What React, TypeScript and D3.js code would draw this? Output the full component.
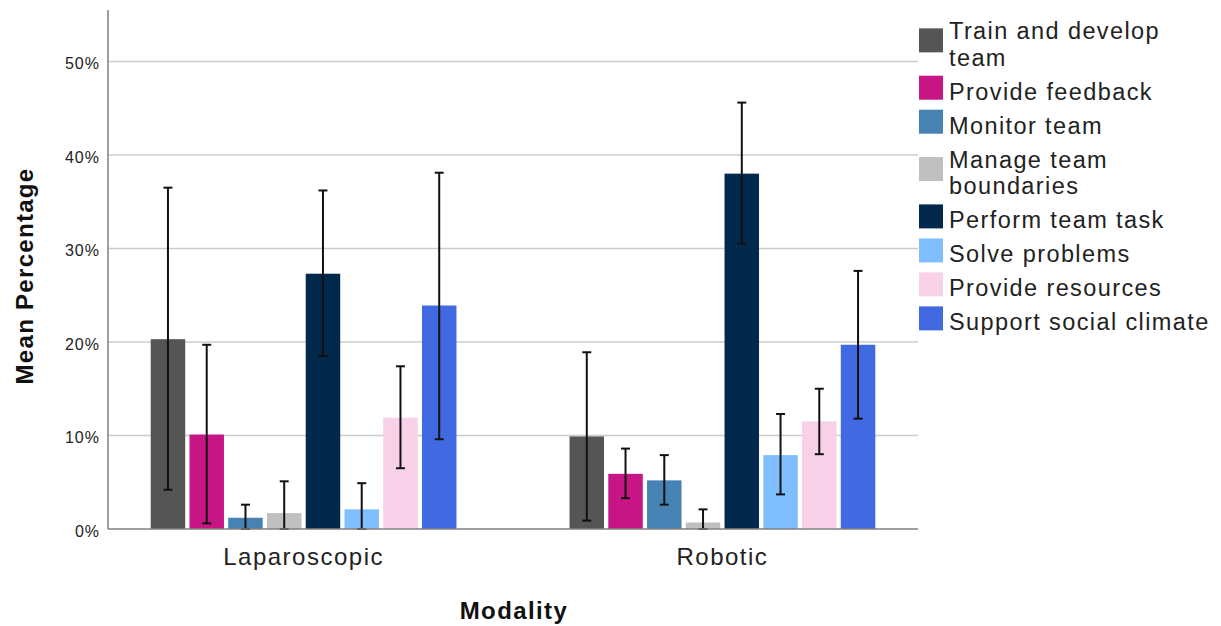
import React, {useEffect, useRef} from "react";
import * as d3 from "d3";

const modalities = ["Laparoscopic", "Robotic"];

const behaviours = [
  "Train and develop team",
  "Provide feedback",
  "Monitor team",
  "Manage team boundaries",
  "Perform team task",
  "Solve problems",
  "Provide resources",
  "Support social climate",
];

// legend wraps some labels onto two lines
const legendLines = [
  ["Train and develop", "team"],
  ["Provide feedback"],
  ["Monitor team"],
  ["Manage team", "boundaries"],
  ["Perform team task"],
  ["Solve problems"],
  ["Provide resources"],
  ["Support social climate"],
];

const colors = [
  "#555555",
  "#c71585",
  "#4682b4",
  "#c0c0c0",
  "#02284b",
  "#80bfff",
  "#f8d1e9",
  "#4169e1",
];

// mean percentage, one array per modality (same order as behaviours)
const laparoscopicMean = [20.3, 10.1, 1.2, 1.7, 27.3, 2.1, 11.9, 23.9];
const roboticMean = [9.9, 5.9, 5.2, 0.7, 38.0, 7.9, 11.5, 19.7];

// error bar ends
const laparoscopicLow = [4.2, 0.6, 0, 0, 18.5, 0, 6.5, 9.6];
const laparoscopicHigh = [36.5, 19.7, 2.6, 5.1, 36.2, 4.9, 17.4, 38.1];
const roboticLow = [0.9, 3.3, 2.6, 0, 30.5, 3.7, 8.0, 11.8];
const roboticHigh = [18.9, 8.6, 7.9, 2.1, 45.6, 12.3, 15.0, 27.6];

const yTicks = [0, 10, 20, 30, 40, 50];

const FONT = "Liberation Sans, Arial, sans-serif";

function createChart(el: SVGSVGElement) {
  const svg = d3.select(el);
  svg.selectAll("*").remove();

  const left = 108,
    right = 918,
    top = 10,
    bottom = 529;

  const y = d3.scaleLinear().domain([0, 55.5]).range([bottom, top]);

  const x0 = d3
    .scaleBand()
    .domain(modalities)
    .range([left, right])
    .paddingInner(0.27)
    .paddingOuter(0.102);

  const x1 = d3
    .scaleBand()
    .domain(behaviours)
    .range([0, x0.bandwidth()])
    .paddingInner(0.11)
    .paddingOuter(0);

  const rows = [
    {m: "Laparoscopic", mean: laparoscopicMean, lo: laparoscopicLow, hi: laparoscopicHigh},
    {m: "Robotic", mean: roboticMean, lo: roboticLow, hi: roboticHigh},
  ];

  // gridlines
  svg
    .append("g")
    .selectAll("line")
    .data(yTicks.filter((t) => t > 0))
    .enter()
    .append("line")
    .attr("x1", left)
    .attr("x2", right)
    .attr("y1", (d) => y(d))
    .attr("y2", (d) => y(d))
    .attr("stroke", "#cccccc")
    .attr("stroke-width", 1.5);

  // tick labels
  svg
    .append("g")
    .selectAll("text")
    .data(yTicks)
    .enter()
    .append("text")
    .attr("x", 100)
    .attr("y", (d) => y(d))
    .attr("dy", "0.5em")
    .attr("text-anchor", "end")
    .attr("font-family", FONT)
    .attr("font-size", 16)
    .attr("letter-spacing", 1)
    .attr("fill", "#222")
    .text((d) => d + "%");

  // bars
  rows.forEach((r) => {
    const g = svg.append("g").attr("transform", `translate(${x0(r.m)},0)`);
    behaviours.forEach((b, i) => {
      g.append("rect")
        .attr("x", x1(b)!)
        .attr("y", y(r.mean[i]))
        .attr("width", x1.bandwidth())
        .attr("height", y(0) - y(r.mean[i]))
        .attr("fill", colors[i]);
    });
    behaviours.forEach((b, i) => {
      const cx = x1(b)! + x1.bandwidth() / 2;
      g.append("line")
        .attr("x1", cx)
        .attr("x2", cx)
        .attr("y1", y(r.lo[i]))
        .attr("y2", y(r.hi[i]))
        .attr("stroke", "#111")
        .attr("stroke-width", 2);
      [r.lo[i], r.hi[i]].forEach((v) => {
        g.append("line")
          .attr("x1", cx - 4.5)
          .attr("x2", cx + 4.5)
          .attr("y1", y(v))
          .attr("y2", y(v))
          .attr("stroke", "#111")
          .attr("stroke-width", 2);
      });
    });
  });

  // axes lines
  svg
    .append("line")
    .attr("x1", left)
    .attr("x2", left)
    .attr("y1", top)
    .attr("y2", bottom)
    .attr("stroke", "#808080")
    .attr("stroke-width", 1.5);
  svg
    .append("line")
    .attr("x1", left)
    .attr("x2", right)
    .attr("y1", bottom)
    .attr("y2", bottom)
    .attr("stroke", "#808080")
    .attr("stroke-width", 1.5);

  // category labels
  svg
    .append("g")
    .selectAll("text")
    .data(modalities)
    .enter()
    .append("text")
    .attr("x", (d) => x0(d)! + x0.bandwidth() / 2)
    .attr("y", 565)
    .attr("text-anchor", "middle")
    .attr("font-family", FONT)
    .attr("font-size", 24)
    .attr("letter-spacing", 1.5)
    .attr("fill", "#222")
    .text((d) => d);

  // axis titles
  svg
    .append("text")
    .attr("x", 514)
    .attr("y", 619)
    .attr("text-anchor", "middle")
    .attr("font-family", FONT)
    .attr("font-size", 24)
    .attr("font-weight", "bold")
    .attr("letter-spacing", 1.4)
    .attr("fill", "#111")
    .text("Modality");

  svg
    .append("text")
    .attr("transform", "translate(33,276) rotate(-90)")
    .attr("text-anchor", "middle")
    .attr("font-family", FONT)
    .attr("font-size", 24)
    .attr("font-weight", "bold")
    .attr("letter-spacing", 1.3)
    .attr("fill", "#111")
    .text("Mean Percentage");

  // legend
  const lineH = 26.7,
    rowH = 34;
  let cy = 10;
  legendLines.forEach((lines, i) => {
    const h = rowH + lineH * (lines.length - 1);
    const c = cy + h / 2;
    svg
      .append("rect")
      .attr("x", 919)
      .attr("y", c - 12)
      .attr("width", 24)
      .attr("height", 24)
      .attr("fill", colors[i]);
    lines.forEach((t, j) => {
      svg
        .append("text")
        .attr("x", 949)
        .attr("y", c - ((lines.length - 1) * lineH) / 2 + j * lineH + 12)
        .attr("font-family", FONT)
        .attr("font-size", 23.5)
        .attr("letter-spacing", 1.4)
        .attr("fill", "#222")
        .text(t);
    });
    cy += h;
  });
}

export default function App() {
  const ref = useRef<SVGSVGElement>(null);
  useEffect(() => {
    if (ref.current) createChart(ref.current);
  }, []);

  return (
    <svg
      ref={ref}
      width={1221}
      height={626}
      style={{position: "absolute", left: 0, top: 0, background: "#fff"}}
    />
  );
}
